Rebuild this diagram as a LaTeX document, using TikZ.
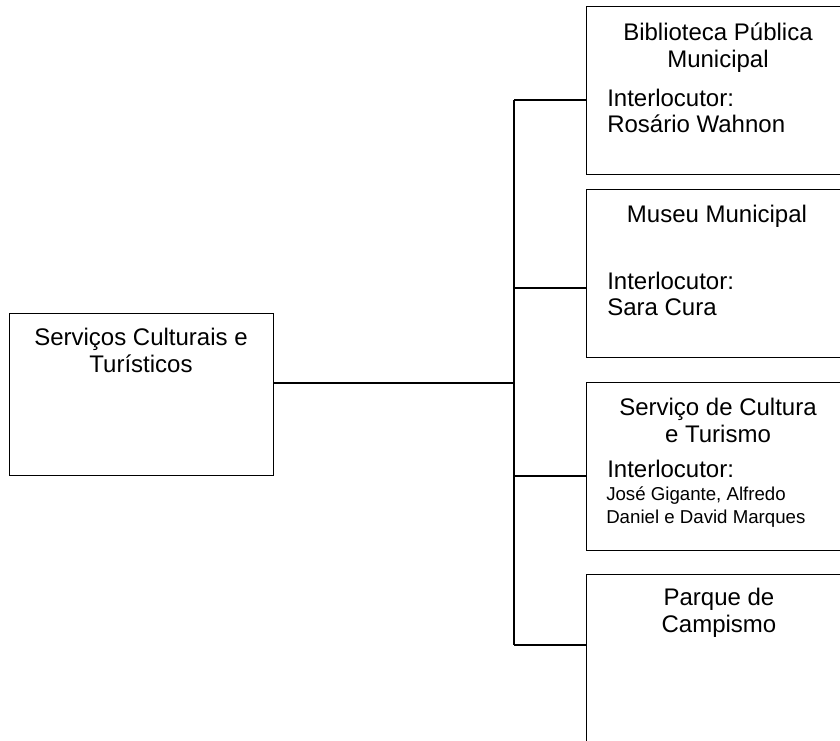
\documentclass[tikz,border=0pt]{standalone}
\usepackage{fontspec}
\setmainfont{Liberation Sans}
\usetikzlibrary{positioning}

\begin{document}
\begin{tikzpicture}[x=0.75pt, y=-0.75pt]
	\tikzstyle{unit} = [draw, line width=0.9pt, anchor=north west, inner sep=0pt, minimum width=198pt, minimum height=126pt]
	\tikzstyle{title} = [anchor=base, align=center, inner sep=0pt, font=\fontsize{18}{20.25}\selectfont]
	\tikzstyle{contact} = [anchor=base west, align=left, inner sep=0pt, font=\fontsize{18}{19.5}\selectfont]
	\tikzstyle{link} = [line width=0.9pt]

	\useasboundingbox (0,0) rectangle (840,740);
	\clip (0,0) rectangle (840,740);

	% Define nodes
	\node[unit, minimum height=121.5pt] (SCT) at (9,313) {};
	\node[unit] (BPM) at (586,6) {};
	\node[unit] (MM) at (586,189) {};
	\node[unit] (SCTu) at (586,382) {};
	\node[unit] (PC) at (586,574) {};

	% Texts inside the boxes (placed at the baseline of their last line)
	\node[title] (SCTt) at (141,372) {Serviços Culturais e\\Turísticos};
	\node[title] (BPMt) at (718,67) {Biblioteca Pública\\Municipal};
	\node[contact] (BPMc) at (607,132) {Interlocutor:\\Rosário Wahnon};
	\node[title] (MMt) at (717,222) {Museu Municipal};
	\node[contact] (MMc) at (607,315) {Interlocutor:\\Sara Cura};
	\node[title] (SCTut) at (718,442) {Serviço de Cultura\\e Turismo};
	\node[contact] (SCTuc) at (607,477) {Interlocutor:};
	\node[contact, font=\fontsize{14}{17.25}\selectfont] (SCTun) at (606,523) {José Gigante, Alfredo\\Daniel e David Marques};
	\node[title] (PCt) at (719,632) {Parque de\\Campismo};

	% Draw connectors
	\coordinate (hub) at (514,383);
	\coordinate (j1) at (514,100);
	\coordinate (j2) at (514,288);
	\coordinate (j3) at (514,476);
	\coordinate (j4) at (514,645);
	\draw[link] (SCT.east |- hub) -- (hub);
	\draw[link] (j1) -- (j4);
	\draw[link] (j1) -- (j1 -| BPM.west);
	\draw[link] (j2) -- (j2 -| MM.west);
	\draw[link] (j3) -- (j3 -| SCTu.west);
	\draw[link] (j4) -- (j4 -| PC.west);

\end{tikzpicture}
\end{document}
